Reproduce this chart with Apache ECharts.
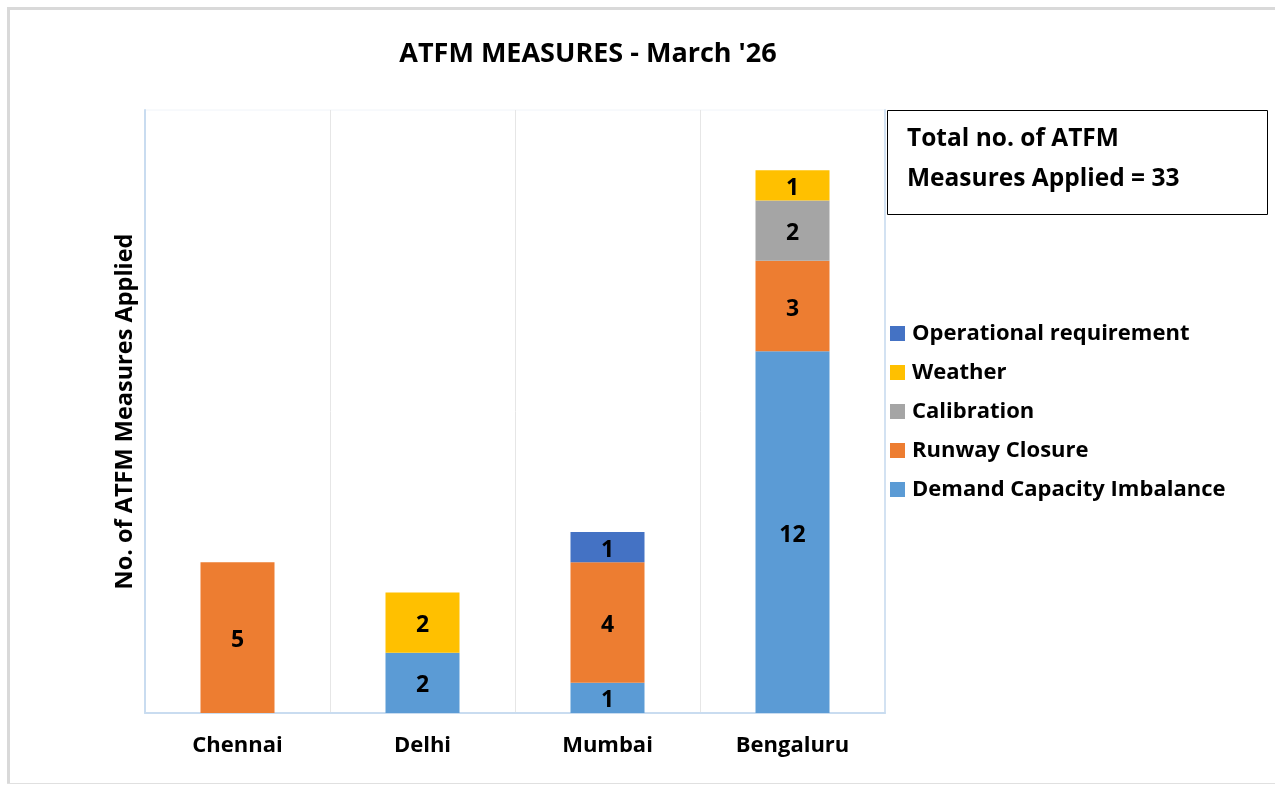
<!DOCTYPE html>
<html>
<head>
<meta charset="utf-8">
<script src="https://cdn.jsdelivr.net/npm/echarts@6/dist/echarts.min.js"></script>
<style>
html,body{margin:0;padding:0;background:#fff;}
#chart{width:1275px;height:785px;}
</style>
</head>
<body>
<div id="chart"></div>
<script>
const categories = ['Chennai', 'Delhi', 'Mumbai', 'Bengaluru'];
const demandCapacity = [null, 2, 1, 12];
const runwayClosure = [5, null, 4, 3];
const calibration = [null, null, null, 2];
const weather = [null, 2, null, 1];
const operational = [null, null, 1, null];
const legendOrder = ['Operational requirement', 'Weather', 'Calibration', 'Runway Closure', 'Demand Capacity Imbalance'];
const titleText = "ATFM MEASURES - March '26";
const yAxisName = 'No. of ATFM Measures Applied';
const boxLines = ['Total no. of ATFM', 'Measures Applied = 33'];

const FONT = '"Open Sans", sans-serif';
const label = {
  show: true, position: 'inside', color: '#000', fontFamily: FONT,
  fontWeight: 'bold', fontSize: 23, offset: [0, 3]
};
function mk(name, data, color) {
  return {
    name, type: 'bar', stack: 'total', data, barWidth: '40%',
    itemStyle: { color }, label, emphasis: { disabled: true }
  };
}

const chart = echarts.init(document.getElementById('chart'), null, { renderer: 'canvas' });
chart.setOption({
  animation: false,
  backgroundColor: '#fff',
  title: {
    text: titleText, left: 583, top: 36, textAlign: 'center',
    textStyle: { fontFamily: FONT, fontWeight: 'bold', fontSize: 27, color: '#000' }
  },
  grid: {
    left: 145, right: 390, top: 110, bottom: 72,
    show: true, borderColor: '#f0f4f9', borderWidth: 1
  },
  legend: {
    data: legendOrder, orient: 'vertical', left: 885, top: 315,
    itemWidth: 15, itemHeight: 15, itemGap: 12, icon: 'rect',
    textStyle: { fontFamily: FONT, fontWeight: 'bold', fontSize: 22, color: '#000', padding: [0, 0, 0, 2], lineHeight: 27 },
    selectedMode: false
  },
  xAxis: {
    type: 'category', data: categories,
    axisLine: { show: true, lineStyle: { color: '#c9dcf0', width: 2 } },
    axisTick: { show: false },
    axisLabel: { fontFamily: FONT, fontWeight: 'bold', fontSize: 22, color: '#000', margin: 22 },
    splitLine: { show: true, lineStyle: { color: '#e6e6e6', width: 1 } }
  },
  yAxis: [{
    type: 'value', min: 0, max: 20, interval: 5,
    name: yAxisName, nameLocation: 'middle', nameGap: 8, nameRotate: 90,
    nameTextStyle: { fontFamily: FONT, fontWeight: 'bold', fontSize: 23.5, color: '#000' },
    axisLine: { show: true, lineStyle: { color: '#c9dcf0', width: 2 } },
    axisTick: { show: false }, axisLabel: { show: false }, splitLine: { show: false }
  }, {
    type: 'value', min: 0, max: 20, interval: 5, position: 'right',
    axisLine: { show: true, lineStyle: { color: '#d3e2f2', width: 2 } },
    axisTick: { show: false }, axisLabel: { show: false }, splitLine: { show: false }
  }],
  series: [
    mk('Demand Capacity Imbalance', demandCapacity, '#5B9BD5'),
    mk('Runway Closure', runwayClosure, '#ED7D31'),
    mk('Calibration', calibration, '#A5A5A5'),
    mk('Weather', weather, '#FFC000'),
    mk('Operational requirement', operational, '#4472C4')
  ],
  graphic: [
    { type: 'line', shape: { x1: 7, y1: 8.5, x2: 1275, y2: 8.5 }, style: { stroke: '#d9d9d9', lineWidth: 3 }, silent: true },
    { type: 'line', shape: { x1: 8.5, y1: 7, x2: 8.5, y2: 784 }, style: { stroke: '#d9d9d9', lineWidth: 3 }, silent: true },
    { type: 'line', shape: { x1: 7, y1: 783.5, x2: 1275, y2: 783.5 }, style: { stroke: '#e0e0e0', lineWidth: 1 }, silent: true },
    { type: 'rect', shape: { x: 887.5, y: 110.5, width: 380, height: 104 }, style: { fill: '#fff', stroke: '#000', lineWidth: 1 }, silent: true },
    { type: 'text', left: 907, top: 127, style: { text: boxLines[0], fontFamily: FONT, fontWeight: 'bold', fontSize: 24.5, fill: '#000' }, silent: true },
    { type: 'text', left: 907, top: 167, style: { text: boxLines[1], fontFamily: FONT, fontWeight: 'bold', fontSize: 24.5, fill: '#000' }, silent: true }
  ]
});
</script>
</body>
</html>
